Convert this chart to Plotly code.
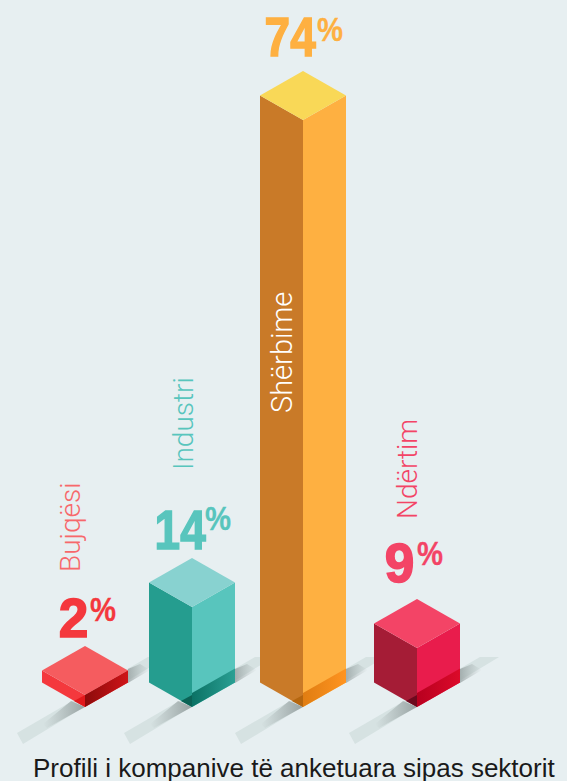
import plotly.graph_objects as go

# ---- data ----
sectors = ["Bujqësi", "Industri", "Shërbime", "Ndërtim"]
shares = [2, 14, 74, 9]
column_heights = [12, 100, 587, 59]      # drawn height of each column on the y axis
column_centres = [85, 192, 303, 417]     # x axis position of each column's front edge
caption = "Profili i kompanive të anketuara sipas sektorit"

# ---- style ----
BG = "#e7eff1"
STRIP = "#d6e2e2"
left_cols = ["#f4383d", "#259d8f", "#c97a28", "#a51c36"]
right_cols = ["#e8262a", "#58c5bd", "#feb041", "#e91c4c"]
top_cols = ["#f55c5f", "#88d2d0", "#f9d857", "#f34466"]
label_cols = ["#f4383d", "#58c5bd", "#feb041", "#f34466"]
name_cols = ["#f7686b", "#58c5bd", "#ffffff", "#f34466"]
band_near = ["#8c0b0b", "#0b7265", "#e07d12", "#b8001f"]
band_far = ["#cf1418", "#2a9f93", "#ff9420", "#dc0a2a"]
tri_cols = ["#e2181c", "#0b6255", "#b5660f", "#6d0a1e"]

HALF_W, HALF_H = 43, 24.5
BAND = 14

fig = go.Figure()


def poly(xs, ys, color=None, grad=None):
    kw = dict(x=xs + xs[:1], y=ys + ys[:1], mode="lines", fill="toself",
              line=dict(width=0), hoverinfo="skip", showlegend=False)
    if grad:
        kw["fillgradient"] = dict(type="horizontal", colorscale=[[0, grad[0]], [1, grad[1]]])
    else:
        kw["fillcolor"] = color
    fig.add_trace(go.Scatter(**kw))


# ground strips
for c in column_centres:
    poly([c - 68, c + 63, c + 82, c - 62], [-26, 50, 50, -37], STRIP)
    poly([c - 38, c, c - 14, c - 42], [-21, 0, 6, -17],
         grad=("rgba(140,150,150,0)", "rgba(130,140,140,0.75)"))
    poly([c + 43, c + 65, c + 55, c + 43], [24, 37, 43, 38],
         grad=("rgba(130,140,140,0.6)", "rgba(150,160,160,0)"))

# columns
for i, c in enumerate(column_centres):
    h = column_heights[i]
    band = min(BAND, h)
    poly([c - HALF_W, c, c, c - HALF_W], [HALF_H, 0, h, h + HALF_H], left_cols[i])
    poly([c, c + HALF_W, c + HALF_W, c], [0, HALF_H, h + HALF_H, h], right_cols[i])
    poly([c - HALF_W, c, c + HALF_W, c], [h + HALF_H, h, h + HALF_H, h + 2 * HALF_H], top_cols[i])
    poly([c, c + HALF_W, c + HALF_W, c], [0, HALF_H, HALF_H + band, band],
         grad=(band_near[i], band_far[i]))
    poly([c - 11, c, c], [6, min(band, 12), 0], tri_cols[i])

annotations = []
num_left = [57, 148, 258, 383]
num_base = [57, 145, 638, 112]
pct_left = [87, 202, 314, 414]
pct_base = [78, 169, 658, 134]
for i, s in enumerate(shares):
    annotations.append(dict(x=num_left[i], y=num_base[i], text=f"<b>{s}</b>", showarrow=False,
                            xanchor="left", yanchor="bottom", borderpad=0,
                            font=dict(family="Liberation Sans", size=56, color=label_cols[i])))
    annotations.append(dict(x=pct_left[i], y=pct_base[i], text="<b>%</b>", showarrow=False,
                            xanchor="left", yanchor="bottom", borderpad=0,
                            font=dict(family="Liberation Sans", size=34, color=label_cols[i])))

name_x = [70, 183, 282, 407]
name_y = [180, 283, 354, 238]
name_sizes = [28, 28, 29, 28]
for i, n in enumerate(sectors):
    annotations.append(dict(x=name_x[i], y=name_y[i], text=n, showarrow=False, textangle=-90,
                            xanchor="center", yanchor="middle",
                            font=dict(family="Roboto", weight=300, size=name_sizes[i], color=name_cols[i])))

annotations.append(dict(x=294, y=-61, text=caption, showarrow=False, xanchor="center", yanchor="middle",
                        font=dict(family="Liberation Sans", size=26, color="#1a1a1a")))

fig.update_layout(
    width=567, height=781, autosize=False,
    margin=dict(l=0, r=0, t=0, b=0),
    paper_bgcolor=BG, plot_bgcolor=BG,
    showlegend=False,
    xaxis=dict(range=[0, 567], visible=False, fixedrange=True),
    yaxis=dict(range=[-74, 707], visible=False, fixedrange=True),
    annotations=annotations,
)

# flush page edges; condense the heavy share labels the way the reference's type is condensed
POST = """
document.body.style.margin = '0';
document.body.style.background = '#e7eff1';
document.documentElement.style.overflow = 'hidden';
document.querySelectorAll('.annotation-text').forEach(function (t) {
  var u = t.getAttribute('data-unformatted') || '';
  if (u.indexOf('<b>') === 0) {
    var two = u.length > 8, pct = u.indexOf('%') >= 0;
    var k = pct ? 0.86 : (two ? 0.82 : 0.95);
    t.setAttribute('textLength', t.getComputedTextLength() * k);
    t.setAttribute('lengthAdjust', 'spacingAndGlyphs');
    t.style.stroke = t.style.fill;
    t.style.strokeWidth = pct ? '0.3px' : '1.6px';
  }
});
"""
fig.write_html("out.html", config={"displayModeBar": False}, post_script=POST)
